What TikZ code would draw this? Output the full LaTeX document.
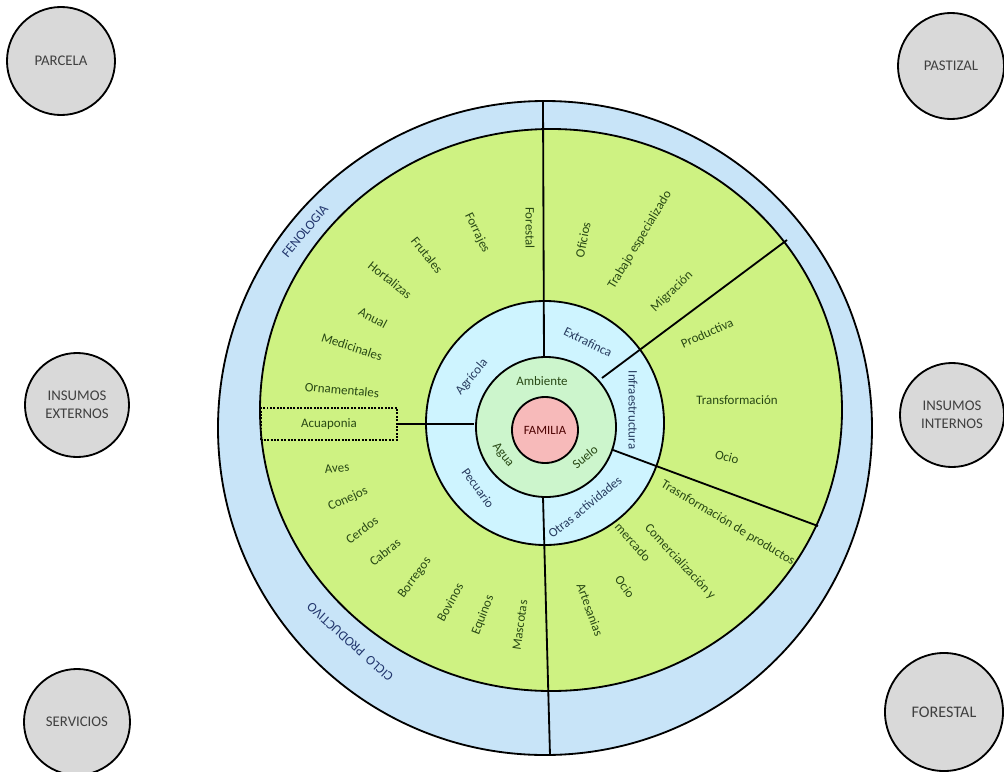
\documentclass[tikz,border=0pt]{standalone}
\usepackage{fontspec}
\setmainfont{Carlito}
\usetikzlibrary{positioning}
\definecolor{bandblue}{RGB}{200,228,248}
\definecolor{limegreen}{RGB}{206,242,130}
\definecolor{ringcyan}{RGB}{206,244,255}
\definecolor{coregreen}{RGB}{204,245,204}
\definecolor{familypink}{RGB}{247,186,186}
\definecolor{sidegray}{RGB}{217,217,217}
\definecolor{leaftext}{RGB}{40,72,20}
\definecolor{ringtext}{RGB}{40,60,95}
\definecolor{bandtext}{RGB}{35,55,110}

\begin{document}
\begin{tikzpicture}[x=0.025cm, y=0.025cm,
  side/.style={circle, draw=black, line width=1.3pt, fill=sidegray, minimum size=2.65cm,
               align=center, inner sep=0pt, font=\fontsize{10.5}{12.5}\selectfont, text=black!75},
  leaf/.style={font=\fontsize{9.2}{10}\selectfont, text=leaftext, inner sep=1pt},
  ringlbl/.style={font=\fontsize{9.2}{10}\selectfont, text=ringtext, inner sep=1pt},
  corelbl/.style={font=\fontsize{9.2}{10}\selectfont, text=leaftext, inner sep=1pt},
  bandlbl/.style={font=\fontsize{9.5}{11}\selectfont, text=bandtext, inner sep=1pt},
  divider/.style={line width=1.3pt}
]
\useasboundingbox (-545,-343) rectangle (459,428);

% Rings
\filldraw[fill=bandblue, line width=1.3pt] (0,0) circle (327);
\filldraw[fill=limegreen, line width=1.3pt] (6,18) ellipse (291 and 281);
\filldraw[fill=ringcyan, line width=1.3pt] (0,5) ellipse (119 and 122);
\filldraw[fill=coregreen, line width=1.3pt] (1,1) circle (70);
\node[circle, draw, line width=1.3pt, fill=familypink, minimum size=1.65cm, inner sep=0pt,
      font=\fontsize{9}{10}\selectfont, text=black!70!red] (familia) at (0,-2) {FAMILIA};

% Dividers
\coordinate (nIn) at (-1,71);  \coordinate (nOut) at (-2,327);
\coordinate (sIn) at (-2,-69); \coordinate (sOut) at (5,-327);
\coordinate (neIn) at (57,50); \coordinate (neOut) at (242,188);
\coordinate (seIn) at (68,-22); \coordinate (seOut) at (273,-98);
\coordinate (wIn) at (-71,4);
\draw[divider] (nIn) -- (nOut);
\draw[divider] (sIn) -- (sOut);
\draw[divider] (neIn) -- (neOut);
\draw[divider] (seIn) -- (seOut);
\node[leaf, draw=black, densely dotted, line width=1.4pt, minimum width=3.42cm, minimum height=0.78cm]
  (acuaponia) at (-216,4) {Acuaponia};
\draw[divider] (wIn) -- (acuaponia.east);

% Outer band
\node[bandlbl, rotate=50] (fenologia) at (-240,197) {FENOLOGIA};
\node[bandlbl, rotate=138] (ciclo) at (-195,-214) {CICLO \ PRODUCTIVO};

% Agricola sector
\node[leaf, rotate=-90] (forestalA) at (-15,200) {Forestal};
\node[leaf, rotate=-64] (forrajes) at (-68,195) {Forrajes};
\node[leaf, rotate=-51] (frutales) at (-118,173) {Frutales};
\node[leaf, rotate=-39] (hortalizas) at (-155,148) {Hortalizas};
\node[leaf, rotate=-28] (anual) at (-172,110) {Anual};
\node[leaf, rotate=-18] (medicinales) at (-193,81) {Medicinales};
\node[leaf, rotate=-5] (ornamentales) at (-203,38) {Ornamentales};

% Pecuario sector
\node[leaf, rotate=5] (aves) at (-208,-40) {Aves};
\node[leaf, rotate=25] (conejos) at (-197,-71) {Conejos};
\node[leaf, rotate=36] (cerdos) at (-183,-102) {Cerdos};
\node[leaf, rotate=38] (cabras) at (-160,-124) {Cabras};
\node[leaf, rotate=54] (borregos) at (-130,-150) {Borregos};
\node[leaf, rotate=61] (bovinos) at (-95,-174) {Bovinos};
\node[leaf, rotate=69] (equinos) at (-62,-187) {Equinos};
\node[leaf, rotate=82] (mascotas) at (-25,-197) {Mascotas};

% Extrafinca sector
\node[leaf, rotate=79] (oficios) at (38,188) {Oficios};
\node[leaf, rotate=59] (trabajo) at (95,188) {Trabajo especializado};
\node[leaf, rotate=44] (migracion) at (127,136) {Migración};

% Infraestructura sector
\node[leaf, rotate=24] (productiva) at (162,95) {Productiva};
\node[leaf] (transformacion) at (192,28) {Transformación};
\node[leaf, rotate=-15] (ocioA) at (182,-29) {Ocio};

% Otras actividades sector
\node[leaf, rotate=-31] (trasnf) at (183,-95) {Trasnformación de productos};
\node[leaf, rotate=-47] (comerc) at (135,-134) {Comercialización y};
\node[leaf, rotate=-48] (mercado) at (88,-114) {mercado};
\node[leaf, rotate=-54] (ocioB) at (80,-159) {Ocio};
\node[leaf, rotate=-70] (artesanias) at (45,-182) {Artesanias};

% Inner ring
\node[ringlbl, rotate=50] (agricola) at (-73,51) {Agrícola};
\node[ringlbl, rotate=-54] (pecuario) at (-67,-60) {Pecuario};
\node[ringlbl, rotate=-26] (extrafinca) at (43,86) {Extrafinca};
\node[ringlbl, rotate=-90] (infra) at (88,18) {Infraestructura};
\node[ringlbl, rotate=39] (otras) at (40,-79) {Otras actividades};

% Core ring
\node[corelbl] (ambiente) at (-3,47) {Ambiente};
\node[corelbl, rotate=-52] (agua) at (-42,-27) {Agua};
\node[corelbl, rotate=40] (suelo) at (40,-29) {Suelo};

% Surrounding circles
\node[side, minimum size=2.7cm] (parcela) at (-484,367) {PARCELA};
\node[side] (pastizal) at (406,362) {PASTIZAL};
\node[side, minimum size=2.6cm] (insext) at (-468,23) {INSUMOS\\EXTERNOS};
\node[side, minimum size=2.6cm] (insint) at (407,13) {INSUMOS\\INTERNOS};
\node[side] (servicios) at (-468,-294) {SERVICIOS};
\node[side, minimum size=2.95cm, font=\fontsize{11.5}{13}\selectfont] (forestalB) at (399,-284) {FORESTAL};
\end{tikzpicture}
\end{document}
